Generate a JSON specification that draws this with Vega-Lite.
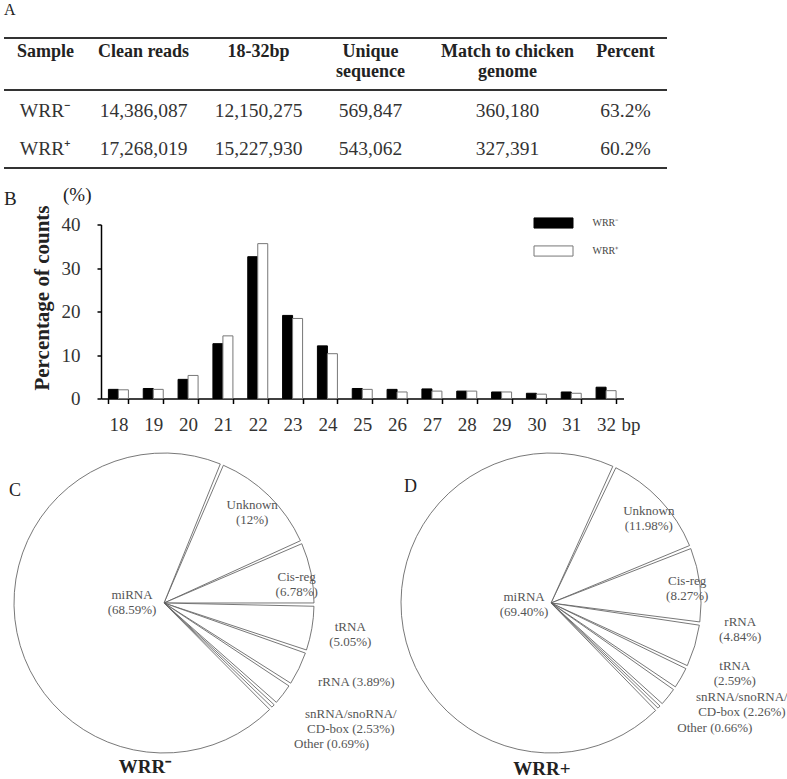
{
  "$schema": "https://vega.github.io/schema/vega-lite/v6.json",
  "padding": {"left": 3, "top": 2, "right": 0, "bottom": 0},
  "background": "white",
  "config": {"view": {"stroke": null}, "font": "Liberation Serif"},
  "datasets": {
    "tableHead": [
      {"col": "Sample", "row": 0, "label": "Sample"},
      {"col": "Clean reads", "row": 0, "label": "Clean reads"},
      {"col": "18-32bp", "row": 0, "label": "18-32bp"},
      {"col": "Unique sequence", "row": 0, "label": "Unique\nsequence"},
      {"col": "Match to chicken genome", "row": 0, "label": "Match to chicken\ngenome"},
      {"col": "Percent", "row": 0, "label": "Percent"}
    ],
    "tableBody": [
      {"col": "Sample", "row": 1, "label": "WRR⁻"},
      {"col": "Clean reads", "row": 1, "label": "14,386,087"},
      {"col": "18-32bp", "row": 1, "label": "12,150,275"},
      {"col": "Unique sequence", "row": 1, "label": "569,847"},
      {"col": "Match to chicken genome", "row": 1, "label": "360,180"},
      {"col": "Percent", "row": 1, "label": "63.2%"},
      {"col": "Sample", "row": 2, "label": "WRR⁺"},
      {"col": "Clean reads", "row": 2, "label": "17,268,019"},
      {"col": "18-32bp", "row": 2, "label": "15,227,930"},
      {"col": "Unique sequence", "row": 2, "label": "543,062"},
      {"col": "Match to chicken genome", "row": 2, "label": "327,391"},
      {"col": "Percent", "row": 2, "label": "60.2%"}
    ],
    "bars": [
      {"len": "18", "series": "WRR⁻", "pct": 2.1}, {"len": "18", "series": "WRR⁺", "pct": 2.0},
      {"len": "19", "series": "WRR⁻", "pct": 2.3}, {"len": "19", "series": "WRR⁺", "pct": 2.1},
      {"len": "20", "series": "WRR⁻", "pct": 4.4}, {"len": "20", "series": "WRR⁺", "pct": 5.3},
      {"len": "21", "series": "WRR⁻", "pct": 12.6}, {"len": "21", "series": "WRR⁺", "pct": 14.4},
      {"len": "22", "series": "WRR⁻", "pct": 32.6}, {"len": "22", "series": "WRR⁺", "pct": 35.6},
      {"len": "23", "series": "WRR⁻", "pct": 19.1}, {"len": "23", "series": "WRR⁺", "pct": 18.4},
      {"len": "24", "series": "WRR⁻", "pct": 12.1}, {"len": "24", "series": "WRR⁺", "pct": 10.3},
      {"len": "25", "series": "WRR⁻", "pct": 2.3}, {"len": "25", "series": "WRR⁺", "pct": 2.1},
      {"len": "26", "series": "WRR⁻", "pct": 2.1}, {"len": "26", "series": "WRR⁺", "pct": 1.5},
      {"len": "27", "series": "WRR⁻", "pct": 2.2}, {"len": "27", "series": "WRR⁺", "pct": 1.7},
      {"len": "28", "series": "WRR⁻", "pct": 1.7}, {"len": "28", "series": "WRR⁺", "pct": 1.7},
      {"len": "29", "series": "WRR⁻", "pct": 1.5}, {"len": "29", "series": "WRR⁺", "pct": 1.5},
      {"len": "30", "series": "WRR⁻", "pct": 1.2}, {"len": "30", "series": "WRR⁺", "pct": 1.0},
      {"len": "31", "series": "WRR⁻", "pct": 1.5}, {"len": "31", "series": "WRR⁺", "pct": 1.2},
      {"len": "32", "series": "WRR⁻", "pct": 2.6}, {"len": "32", "series": "WRR⁺", "pct": 1.8}
    ],
    "pieC": [
      {"name": "Unknown", "pct": 12, "label": "Unknown\n(12%)"},
      {"name": "Cis-reg", "pct": 6.78, "label": "Cis-reg\n(6.78%)"},
      {"name": "tRNA", "pct": 5.05, "label": "tRNA\n(5.05%)"},
      {"name": "rRNA", "pct": 3.89, "label": "rRNA (3.89%)"},
      {"name": "snRNA", "pct": 2.53, "label": "snRNA/snoRNA/\nCD-box (2.53%)"},
      {"name": "Other", "pct": 0.69, "label": "Other (0.69%)"},
      {"name": "miRNA", "pct": 68.59, "label": "miRNA\n(68.59%)"}
    ],
    "pieD": [
      {"name": "Unknown", "pct": 11.98, "label": "Unknown\n(11.98%)"},
      {"name": "Cis-reg", "pct": 8.27, "label": "Cis-reg\n(8.27%)"},
      {"name": "rRNA", "pct": 4.84, "label": "rRNA\n(4.84%)"},
      {"name": "tRNA", "pct": 2.59, "label": "tRNA\n(2.59%)"},
      {"name": "snRNA", "pct": 2.26, "label": "snRNA/snoRNA/\nCD-box (2.26%)"},
      {"name": "Other", "pct": 0.66, "label": "Other (0.66%)"},
      {"name": "miRNA", "pct": 69.40, "label": "miRNA\n(69.40%)"}
    ]
  },
  "spacing": 16.5,
  "resolve": {"legend": {"fill": "independent", "stroke": "independent"}},
  "vconcat": [
    {
      "width": 663,
      "height": 130,
      "title": {"text": "A", "anchor": "start", "frame": "group", "fontSize": 16, "fontWeight": "normal", "baseline": "alphabetic", "offset": 6, "color": "#222"},
      "layer": [
        {
          "data": {"name": "tableHead"},
          "mark": {"type": "text", "fontSize": 18, "fontWeight": "bold", "lineBreak": "\n", "lineHeight": 20, "baseline": "alphabetic", "align": "center", "dy": -16, "color": "#222",
            "dx": {"expr": "({'Clean reads': -18, '18-32bp': -19, 'Unique sequence': -23, 'Match to chicken genome': -2})[datum.col] || 0"}},
          "encoding": {
            "x": {"field": "col", "type": "nominal", "scale": {"type": "point", "domain": ["Sample", "Clean reads", "18-32bp", "Unique sequence", "Match to chicken genome", "Percent"], "padding": 0.358}, "axis": null},
            "y": {"field": "row", "type": "quantitative", "scale": {"domain": [-0.92, 2.5], "nice": false, "zero": false, "reverse": true}, "axis": null},
            "text": {"field": "label"}
          }
        },
        {
          "data": {"name": "tableBody"},
          "mark": {"type": "text", "fontSize": 19.5, "baseline": "middle", "align": "center", "color": "#333",
            "dx": {"expr": "({'Clean reads': -18, '18-32bp': -19, 'Unique sequence': -23, 'Match to chicken genome': -2})[datum.col] || 0"}},
          "encoding": {
            "x": {"field": "col", "type": "nominal", "scale": {"type": "point"}, "axis": null},
            "y": {"field": "row", "type": "quantitative", "axis": null},
            "text": {"field": "label"}
          }
        },
        {
          "data": {"values": [{}]},
          "mark": {"type": "rule", "color": "#333", "strokeWidth": 2},
          "encoding": {"y": {"datum": -0.92}}
        },
        {
          "data": {"values": [{}]},
          "mark": {"type": "rule", "color": "#333", "strokeWidth": 2},
          "encoding": {"y": {"datum": 0.447}}
        },
        {
          "data": {"values": [{}]},
          "mark": {"type": "rule", "color": "#333", "strokeWidth": 2},
          "encoding": {"y": {"datum": 2.5}}
        }
      ]
    },
    {
      "bounds": "flush",
      "spacing": 0,
      "resolve": {"legend": {"fill": "independent", "stroke": "independent"}},
      "hconcat": [
        {
          "width": 96.5,
          "height": 174,
          "data": {"values": []},
          "mark": "point",
          "title": {"text": "B", "anchor": "start", "frame": "group", "fontSize": 19, "fontWeight": "normal", "baseline": "alphabetic", "offset": 1, "color": "#222"}
        },
        {
          "width": 522.5,
          "height": 174,
          "data": {"name": "bars"},
          "title": {"text": "(%)", "anchor": "start", "frame": "group", "dx": -38, "offset": -16.5, "baseline": "alphabetic", "fontSize": 19, "fontWeight": "normal", "color": "#222"},
          "mark": {"type": "bar", "strokeWidth": 1},
          "encoding": {
            "x": {
              "field": "len", "type": "ordinal",
              "scale": {"paddingInner": 0.426, "paddingOuter": 0.213},
              "axis": {"title": "bp", "titleX": 520, "titleY": 32, "titleAlign": "left", "titleBaseline": "alphabetic", "titleAngle": 0, "titleFontWeight": "normal", "titleFontSize": 19, "titleColor": "#333", "labelAngle": 0, "labelFontSize": 19, "labelColor": "#333", "labelPadding": 12, "tickSize": 5, "tickBand": "extent", "domainColor": "black", "tickColor": "black", "domainWidth": 1.5, "tickWidth": 1.5}
            },
            "xOffset": {"field": "series", "type": "nominal", "scale": {"domain": ["WRR⁻", "WRR⁺"], "paddingInner": 0, "paddingOuter": 0}},
            "y": {
              "field": "pct", "type": "quantitative",
              "scale": {"domain": [0, 40], "nice": false},
              "axis": {"title": "Percentage of counts", "values": [0, 10, 20, 30, 40], "grid": false, "titleFontSize": 21, "titleFontWeight": "bold", "titleColor": "#222", "titlePadding": 9, "titleY": 73, "labelFontSize": 19, "labelColor": "#333", "labelPadding": 17, "tickSize": 4, "domainColor": "black", "tickColor": "black", "domainWidth": 1.5, "tickWidth": 1.5}
            },
            "fill": {
              "field": "series", "type": "nominal",
              "scale": {"domain": ["WRR⁻", "WRR⁺"], "range": ["black", "white"]},
              "legend": {"title": null, "orient": "none", "legendX": 432.5, "legendY": -21.5, "padding": 0, "symbolType": "M-1,-0.26H1V0.26H-1Z", "symbolSize": 1521, "symbolStrokeWidth": 1, "labelFontSize": 10, "labelColor": "#444", "labelOffset": 19, "rowPadding": -10}
            },
            "stroke": {
              "field": "series", "type": "nominal",
              "scale": {"domain": ["WRR⁻", "WRR⁺"], "range": ["black", "#777"]},
              "legend": {"title": null, "orient": "none", "legendX": 432.5, "legendY": -21.5, "padding": 0, "symbolType": "M-1,-0.26H1V0.26H-1Z", "symbolSize": 1521, "symbolStrokeWidth": 1, "labelFontSize": 10, "labelColor": "#444", "labelOffset": 19, "rowPadding": -10}
            }
          }
        }
      ]
    },
    {
      "bounds": "flush",
      "spacing": 0,
      "hconcat": [
        {
          "width": 10,
          "height": 300,
          "data": {"values": []},
          "mark": "point",
          "title": {"text": "C", "anchor": "start", "frame": "group", "dx": 5, "offset": -61, "baseline": "alphabetic", "fontSize": 18, "fontWeight": "normal", "color": "#222"}
        },
        {
          "width": 300,
          "height": 300,
          "data": {"name": "pieC"},
          "title": {"text": "WRR⁻", "orient": "bottom", "anchor": "middle", "dx": -19, "offset": 18, "baseline": "alphabetic", "fontSize": 19, "fontWeight": "bold", "color": "#222"},
          "encoding": {
            "theta": {"field": "pct", "type": "quantitative", "stack": true, "scale": {"range": [0.396, 6.679]}}
          },
          "layer": [
            {"mark": {"type": "arc", "outerRadius": 150, "fill": "white", "stroke": "#555", "strokeWidth": 0.8, "padAngle": 0.022}},
            {
              "mark": {
                "type": "text",
                "radius": {"expr": "({'Unknown': 126, 'Cis-reg': 134, 'miRNA': 32, 'tRNA': 189, 'rRNA': 208, 'snRNA': 221, 'Other': 219})[datum.name]"},
                "thetaOffset": {"expr": "({'Unknown': 0, 'Cis-reg': 0.065, 'miRNA': 0.222, 'tRNA': 0, 'rRNA': -0.061, 'snRNA': -0.091, 'Other': -0.057})[datum.name]"},
                "dy": {"expr": "indexof(datum.label, '\\n') >= 0 ? -7.5 : 0"},
                "fontSize": 13, "color": "#555", "lineBreak": "\n", "lineHeight": 15, "align": "center", "baseline": "middle"
              },
              "encoding": {"text": {"value": {"expr": "datum.label"}}}
            }
          ]
        },
        {
          "width": 87,
          "height": 300,
          "data": {"values": []},
          "mark": "point",
          "title": {"text": "D", "anchor": "start", "frame": "group", "dx": 90, "offset": -57, "baseline": "alphabetic", "fontSize": 18, "fontWeight": "normal", "color": "#222"}
        },
        {
          "width": 300,
          "height": 300,
          "data": {"name": "pieD"},
          "title": {"text": "WRR+", "orient": "bottom", "anchor": "middle", "dx": -9, "offset": 20, "baseline": "alphabetic", "fontSize": 19, "fontWeight": "bold", "color": "#222"},
          "encoding": {
            "theta": {"field": "pct", "type": "quantitative", "stack": true, "scale": {"range": [0.436, 6.719]}}
          },
          "layer": [
            {"mark": {"type": "arc", "outerRadius": 150, "fill": "white", "stroke": "#555", "strokeWidth": 0.8, "padAngle": 0.022}},
            {
              "mark": {
                "type": "text",
                "radius": {"expr": "({'Unknown': 129, 'Cis-reg': 137, 'miRNA': 27, 'rRNA': 191, 'tRNA': 197, 'snRNA': 216, 'Other': 206})[datum.name]"},
                "thetaOffset": {"expr": "({'Unknown': 0.048, 'Cis-reg': 0.016, 'miRNA': 0.1, 'rRNA': -0.153, 'tRNA': -0.155, 'snRNA': -0.188, 'Other': -0.116})[datum.name]"},
                "dy": {"expr": "indexof(datum.label, '\\n') >= 0 ? -7.5 : 0"},
                "fontSize": 13, "color": "#555", "lineBreak": "\n", "lineHeight": 15, "align": "center", "baseline": "middle"
              },
              "encoding": {"text": {"value": {"expr": "datum.label"}}}
            }
          ]
        }
      ]
    }
  ]
}
